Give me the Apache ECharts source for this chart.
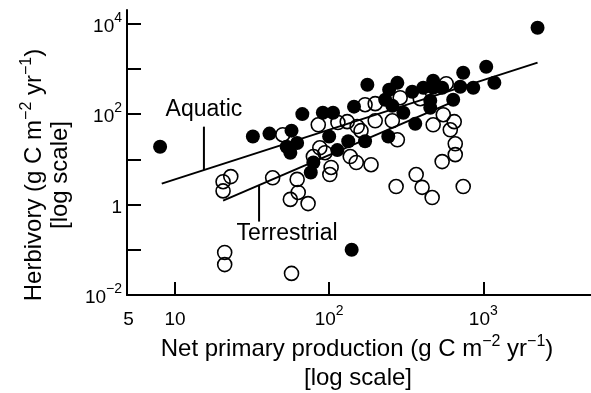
<!DOCTYPE html>
<html><head><meta charset="utf-8">
<script src="https://cdn.jsdelivr.net/npm/echarts@6/dist/echarts.min.js"></script>
<style>html,body{margin:0;padding:0;background:#fff}#c{width:591px;height:393px}</style>
</head><body><div id="c"></div>
<script>
// Aquatic (filled) points: net primary production vs herbivory
const aquaticNPP  = [8.0, 2250, 140, 32, 41, 57, 67, 91, 106, 145, 53, 62, 56, 100, 113, 133, 79, 76, 177, 277, 245, 346, 408, 473, 473, 541, 741, 1045, 1180, 861, 709, 638, 231, 257, 303, 362, 453, 453, 242, 171];
const aquaticHerb = [19, 8100, 0.10, 32, 37, 43, 100, 107, 107, 146, 19, 23, 14, 32, 16, 25, 8.5, 5.1, 445, 490, 346, 312, 383, 546, 383, 383, 820, 1110, 494, 383, 403, 208, 208, 153, 107, 61, 198, 138, 32, 25];
// Terrestrial (open) points
const terrestrialNPP  = [50, 85, 114, 131, 152, 87, 94, 79, 137, 103, 101, 43, 62, 63, 56, 73, 23, 20.5, 20.5, 21, 21, 57, 171, 199, 289, 390, 575, 161, 199, 257, 473, 550, 648, 611, 277, 658, 658, 541, 150, 187, 367, 272, 401, 466, 741];
const terrestrialHerb = [35, 58, 65, 68, 53, 18, 14, 11.5, 11.5, 6.6, 4.6, 3.9, 3.6, 1.85, 1.3, 1.05, 4.15, 3.2, 2.0, 0.087, 0.047, 0.030, 161, 170, 230, 219, 469, 43, 71, 71, 58, 97, 68, 45, 27, 22, 12.7, 8.9, 8.5, 7.6, 4.6, 2.5, 2.4, 1.43, 2.5];
// Fitted regression lines (end points)
const aquaticFitNPP = [8.2, 2250];
const aquaticFitHerb = [2.9, 1370];
const terrestrialFitNPP = [20.5, 640];
const terrestrialFitHerb = [1.22, 188];
// Annotation leaders
const aquaticLeaderNPP = [15.4, 15.4];
const aquaticLeaderHerb = [52.7, 5.8];
const terrestrialLeaderNPP = [35.1, 35.1];
const terrestrialLeaderHerb = [2.69, 0.42];
// Axis ticks / labels
const xTickValues = [10, 100, 1000];
const xLabelValues = [5, 10, 100, 1000];
const yTickValues = [0.1, 1, 10, 100, 1000, 10000];
const yLabelValues = [0.01, 1, 100, 10000];

const FONT = 'Liberation Sans';
const zip = (a, b) => a.map((v, i) => [v, b[i]]);

function fmt(axis) {
  return function (v) {
    const e = Math.log10(v), n = Math.round(e);
    if (Math.abs(e - n) > 0.01) return '{b|' + Math.round(v) + '}';
    if (n === 0) return '{b|1}';
    if (n === 1 && axis === 'x') return '{b|10}';
    return '{b|10}{s|' + (n < 0 ? '\u2212' + (-n) : n) + '}';
  };
}
const labelRich = {
  b: { fontSize: 19, fontFamily: FONT, color: '#000', lineHeight: 25, verticalAlign: 'bottom' },
  s: { fontSize: 14, fontFamily: FONT, color: '#000', lineHeight: 14, verticalAlign: 'top' }
};
const titleRich = {
  s: { fontSize: 16, fontFamily: FONT, color: '#000', lineHeight: 16, verticalAlign: 'top' }
};

const chart = echarts.init(document.getElementById('c'), null, { renderer: 'canvas' });
chart.setOption({
  animation: false,
  backgroundColor: '#fff',
  grid: { left: 127, right: 0, top: 10, bottom: 98 },
  xAxis: {
    type: 'log', logBase: 10, min: 4.88, max: 5000,
    axisLine: { lineStyle: { color: '#000', width: 2 } },
    axisTick: { show: true, inside: true, length: 13, customValues: xTickValues, lineStyle: { color: '#000', width: 2 } },
    axisLabel: { customValues: xLabelValues, formatter: fmt('x'), rich: labelRich, margin: 9, color: '#000' },
    splitLine: { show: false }, minorTick: { show: false }
  },
  yAxis: {
    type: 'log', logBase: 10, min: 0.01, max: 20000,
    axisLine: { lineStyle: { color: '#000', width: 2 } },
    axisTick: { show: true, inside: true, length: 14, customValues: yTickValues, lineStyle: { color: '#000', width: 2 } },
    axisLabel: { customValues: yLabelValues, formatter: fmt('y'), rich: labelRich, margin: 5, color: '#000' },
    splitLine: { show: false }
  },
  graphic: [
    { type: 'text', x: 357, y: 349, style: { text: 'Net primary production (g C m{s|\u22122} yr{s|\u22121})', rich: titleRich, fontSize: 24, lineHeight: 30, fontFamily: FONT, fill: '#000', align: 'center', verticalAlign: 'middle' } },
    { type: 'text', x: 358, y: 378, style: { text: '[log scale]', fontSize: 24, fontFamily: FONT, fill: '#000', align: 'center', verticalAlign: 'middle' } },
    { type: 'text', x: 34, y: 175, rotation: Math.PI / 2, style: { text: 'Herbivory (g C m{s|\u22122} yr{s|\u22121})', rich: titleRich, fontSize: 24, lineHeight: 30, fontFamily: FONT, fill: '#000', align: 'center', verticalAlign: 'middle' } },
    { type: 'text', x: 60, y: 175, rotation: Math.PI / 2, style: { text: '[log scale]', fontSize: 24, fontFamily: FONT, fill: '#000', align: 'center', verticalAlign: 'middle' } }
  ],
  series: [
    { name: 'Aquatic fit', type: 'line', data: zip(aquaticFitNPP, aquaticFitHerb), showSymbol: false, lineStyle: { color: '#000', width: 2 }, z: 3 },
    { name: 'Terrestrial fit', type: 'line', data: zip(terrestrialFitNPP, terrestrialFitHerb), showSymbol: false, lineStyle: { color: '#000', width: 2 }, z: 3 },
    { name: 'Aquatic leader', type: 'line', data: zip(aquaticLeaderNPP, aquaticLeaderHerb), showSymbol: false, lineStyle: { color: '#000', width: 2 }, z: 3 },
    { name: 'Terrestrial leader', type: 'line', data: zip(terrestrialLeaderNPP, terrestrialLeaderHerb), showSymbol: false, lineStyle: { color: '#000', width: 2 }, z: 3 },
    { name: 'Terrestrial', type: 'scatter', data: zip(terrestrialNPP, terrestrialHerb), symbol: 'circle', symbolSize: 14,
      itemStyle: { color: 'rgba(0,0,0,0)', borderColor: '#000', borderWidth: 1.6, opacity: 1 }, z: 4 },
    { name: 'Aquatic', type: 'scatter', data: zip(aquaticNPP, aquaticHerb), symbol: 'circle', symbolSize: 14,
      itemStyle: { color: '#000', opacity: 1 }, z: 5 },
    { name: 'Labels', type: 'scatter', symbolSize: 0, z: 6, itemStyle: { opacity: 1, color: '#000' },
      data: [
        { value: [aquaticLeaderNPP[0], aquaticLeaderHerb[0]], label: { show: true, formatter: 'Aquatic', position: 'top', distance: 6, fontSize: 23, fontFamily: FONT, color: '#000', opacity: 1 } },
        { value: [terrestrialLeaderNPP[1], terrestrialLeaderHerb[1]], label: { show: true, formatter: 'Terrestrial', position: 'bottom', distance: 1, offset: [28, 0], fontSize: 23, fontFamily: FONT, color: '#000', opacity: 1 } }
      ] }
  ]
});
</script></body></html>
